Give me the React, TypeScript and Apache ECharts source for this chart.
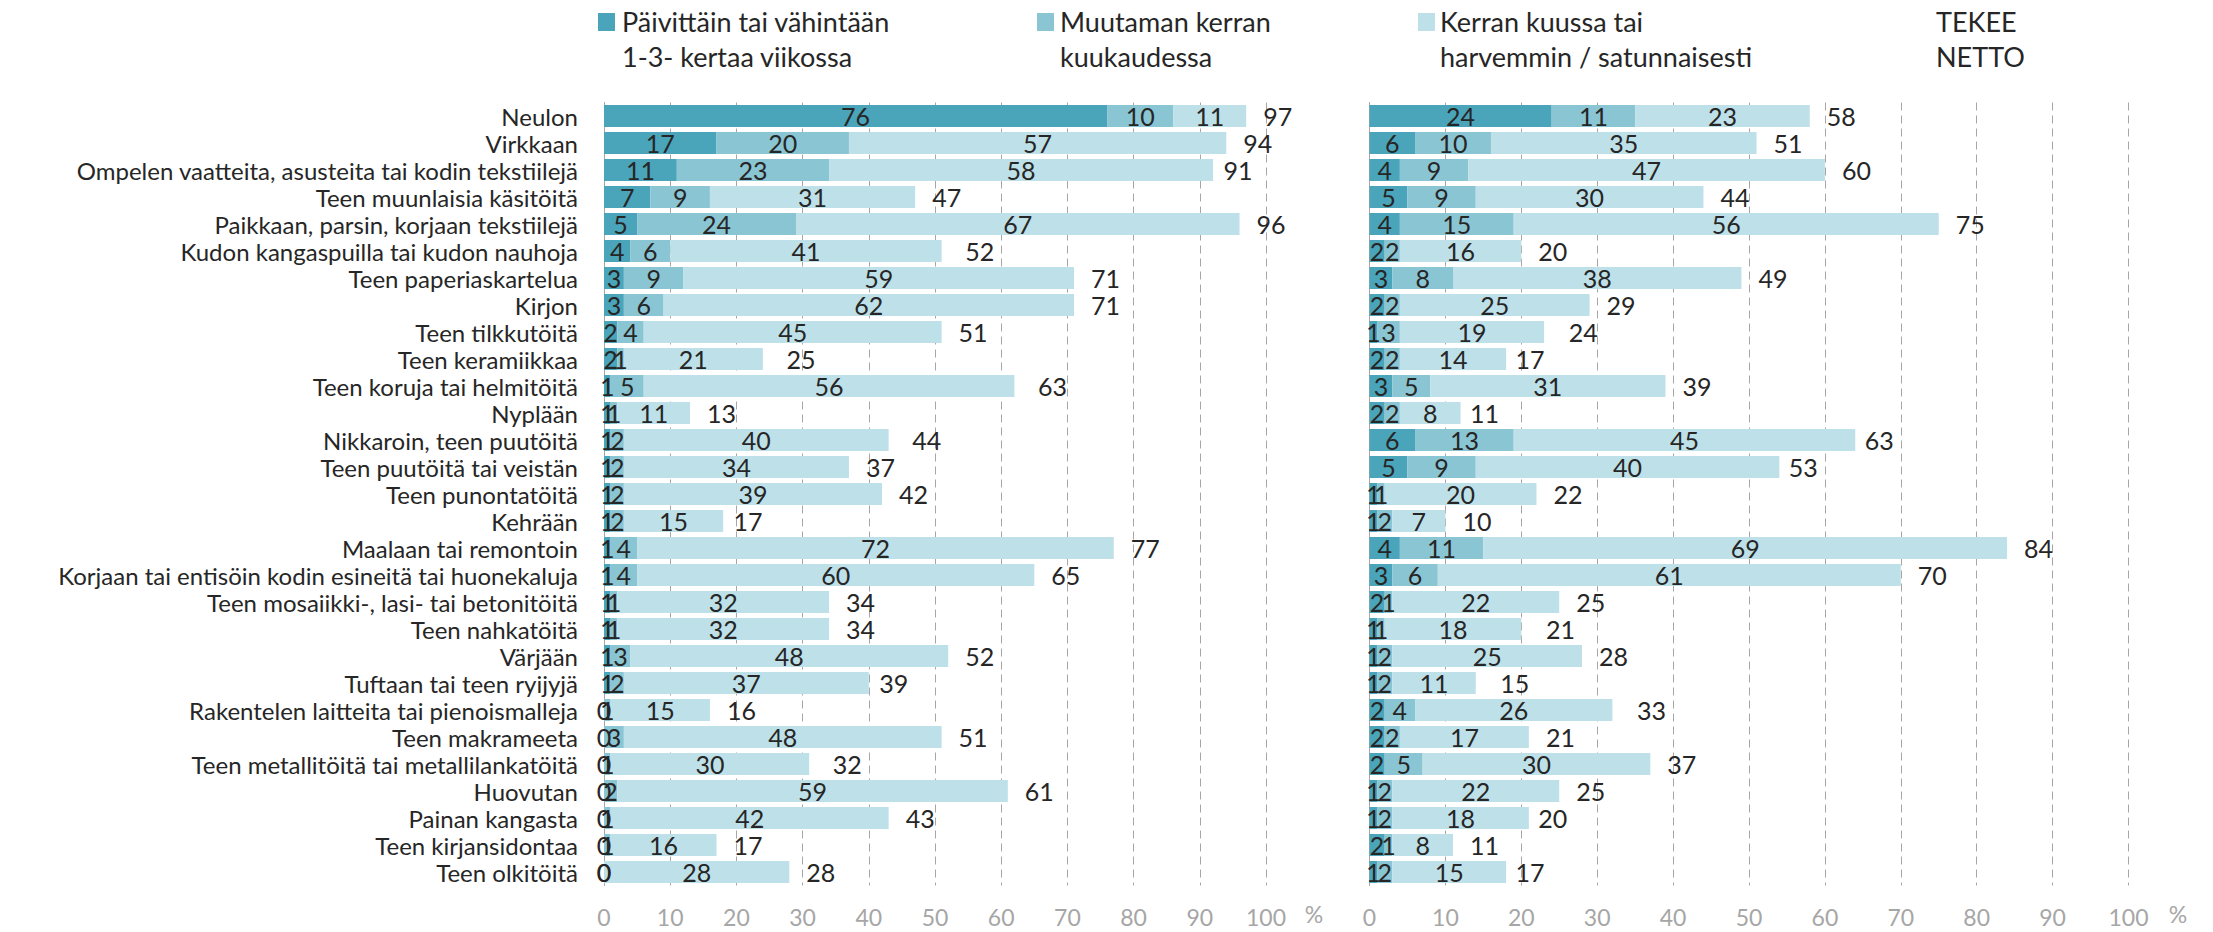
import React, { useEffect, useRef } from "react";
import * as echarts from "echarts";

const categories = [
  "Neulon",
  "Virkkaan",
  "Ompelen vaatteita, asusteita tai kodin tekstiilejä",
  "Teen muunlaisia käsitöitä",
  "Paikkaan, parsin, korjaan tekstiilejä",
  "Kudon kangaspuilla tai kudon nauhoja",
  "Teen paperiaskartelua",
  "Kirjon",
  "Teen tilkkutöitä",
  "Teen keramiikkaa",
  "Teen koruja tai helmitöitä",
  "Nyplään",
  "Nikkaroin, teen puutöitä",
  "Teen puutöitä tai veistän",
  "Teen punontatöitä",
  "Kehrään",
  "Maalaan tai remontoin",
  "Korjaan tai entisöin kodin esineitä tai huonekaluja",
  "Teen mosaiikki-, lasi- tai betonitöitä",
  "Teen nahkatöitä",
  "Värjään",
  "Tuftaan tai teen ryijyjä",
  "Rakentelen laitteita tai pienoismalleja",
  "Teen makrameeta",
  "Teen metallitöitä tai metallilankatöitä",
  "Huovutan",
  "Painan kangasta",
  "Teen kirjansidontaa",
  "Teen olkitöitä",
];

const dailyLeft = [76, 17, 11, 7, 5, 4, 3, 3, 2, 2, 1, 1, 1, 1, 1, 1, 1, 1, 1, 1, 1, 1, 0, 0, 0, 0, 0, 0, 0];
const monthlyLeft = [10, 20, 23, 9, 24, 6, 9, 6, 4, 1, 5, 1, 2, 2, 2, 2, 4, 4, 1, 1, 3, 2, 1, 3, 1, 2, 1, 1, 0];
const rareLeft = [11, 57, 58, 31, 67, 41, 59, 62, 45, 21, 56, 11, 40, 34, 39, 15, 72, 60, 32, 32, 48, 37, 15, 48, 30, 59, 42, 16, 28];
const totalLeft = [97, 94, 91, 47, 96, 52, 71, 71, 51, 25, 63, 13, 44, 37, 42, 17, 77, 65, 34, 34, 52, 39, 16, 51, 32, 61, 43, 17, 28];

const dailyRight = [24, 6, 4, 5, 4, 2, 3, 2, 1, 2, 3, 2, 6, 5, 1, 1, 4, 3, 2, 1, 1, 1, 2, 2, 2, 1, 1, 2, 1];
const monthlyRight = [11, 10, 9, 9, 15, 2, 8, 2, 3, 2, 5, 2, 13, 9, 1, 2, 11, 6, 1, 1, 2, 2, 4, 2, 5, 2, 2, 1, 2];
const rareRight = [23, 35, 47, 30, 56, 16, 38, 25, 19, 14, 31, 8, 45, 40, 20, 7, 69, 61, 22, 18, 25, 11, 26, 17, 30, 22, 18, 8, 15];
const totalRight = [58, 51, 60, 44, 75, 20, 49, 29, 24, 17, 39, 11, 63, 53, 22, 10, 84, 70, 25, 21, 28, 15, 33, 21, 37, 25, 20, 11, 17];

const legendNames = [
  ["Päivittäin tai vähintään", "1-3- kertaa viikossa"],
  ["Muutaman kerran", "kuukaudessa"],
  ["Kerran kuussa tai", "harvemmin / satunnaisesti"],
];
const nettoLabel = ["TEKEE", "NETTO"];

const COLORS = ["#4AA5BA", "#8AC5D3", "#BEE1E9"];
const TEXT = "#262626";
const GRAY = "#a6a6a6";
const FONT = "Lato, 'Open Sans', sans-serif";

export default function App() {
  const ref = useRef<HTMLDivElement>(null);

  useEffect(() => {
    if (!ref.current) return;
    const chart = echarts.init(ref.current, undefined, { renderer: "svg" });

    const valueLabel = {
      show: true,
      position: "inside",
      color: TEXT,
      fontSize: 25,
      fontFamily: FONT,
    };

    const makeStack = (idx: number, arrays: number[][], total: number[]) => {
      const s: any[] = arrays.map((arr, i) => ({
        type: "bar",
        name: legendNames[i][0],
        xAxisIndex: idx,
        yAxisIndex: idx,
        stack: "s" + idx,
        data: arr,
        barWidth: 22,
        barGap: "-100%",
        itemStyle: { color: COLORS[i] },
        label: valueLabel,
        silent: true,
      }));
      s.push({
        type: "bar",
        name: "total" + idx,
        xAxisIndex: idx,
        yAxisIndex: idx,
        data: total,
        barWidth: 22,
        barGap: "-100%",
        itemStyle: { color: "rgba(0,0,0,0)" },
        label: {
          show: true,
          position: "right",
          distance: 17,
          color: TEXT,
          fontSize: 25,
          fontFamily: FONT,
        },
        silent: true,
        z: 1,
      });
      return s;
    };

    const xAxisBase = (gridIndex: number) => ({
      gridIndex,
      type: "value",
      min: 0,
      max: 100,
      interval: 10,
      axisLine: { show: false },
      axisTick: { show: false },
      splitLine: { show: true, lineStyle: { type: [8, 5], color: GRAY, width: 1 } },
      axisLabel: { color: GRAY, fontSize: 23, fontFamily: FONT, margin: 20 },
    });

    const yAxisBase = (gridIndex: number, showLabels: boolean) => ({
      gridIndex,
      type: "category",
      data: categories,
      inverse: true,
      axisLine: { show: true, lineStyle: { color: GRAY, width: 1 } },
      axisTick: { show: false },
      axisLabel: {
        show: showLabels,
        interval: 0,
        color: TEXT,
        fontSize: 24,
        fontFamily: FONT,
        margin: 26,
      },
    });

    const legendGraphics: any[] = [];
    const legendPos = [
      { rx: 598, tx: 622 },
      { rx: 1037, tx: 1060 },
      { rx: 1418, tx: 1440 },
    ];
    const legendText = (text: string, x: number, y: number) => ({
      type: "text",
      x,
      y,
      style: {
        text,
        fill: TEXT,
        fontSize: 27,
        fontFamily: FONT,
        verticalAlign: "middle",
        align: "left",
      },
    });
    legendPos.forEach((p, i) => {
      legendGraphics.push({
        type: "rect",
        shape: { x: p.rx, y: 13, width: 17, height: 18 },
        style: { fill: COLORS[i] },
      });
      legendNames[i].forEach((line, j) => {
        legendGraphics.push(legendText(line, p.tx, 21 + j * 35));
      });
    });
    nettoLabel.forEach((line, j) => {
      legendGraphics.push(legendText(line, 1936, 21 + j * 35));
    });
    [1314, 2178].forEach((x) => {
      legendGraphics.push({
        type: "text",
        x,
        y: 914,
        style: {
          text: "%",
          fill: GRAY,
          fontSize: 23,
          fontFamily: FONT,
          verticalAlign: "middle",
          align: "center",
        },
      });
    });

    chart.setOption({
      animation: false,
      backgroundColor: "#ffffff",
      grid: [
        { left: 604, top: 102.5, width: 662, height: 783 },
        { left: 1369.5, top: 102.5, width: 759, height: 783 },
      ],
      xAxis: [xAxisBase(0), xAxisBase(1)],
      yAxis: [yAxisBase(0, true), yAxisBase(1, false)],
      series: [
        ...makeStack(0, [dailyLeft, monthlyLeft, rareLeft], totalLeft),
        ...makeStack(1, [dailyRight, monthlyRight, rareRight], totalRight),
      ],
      graphic: legendGraphics,
    });

    return () => chart.dispose();
  }, []);

  return (
    <div
      ref={ref}
      style={{ position: "fixed", left: 0, top: 0, width: 2213, height: 932, background: "#fff" }}
    />
  );
}
